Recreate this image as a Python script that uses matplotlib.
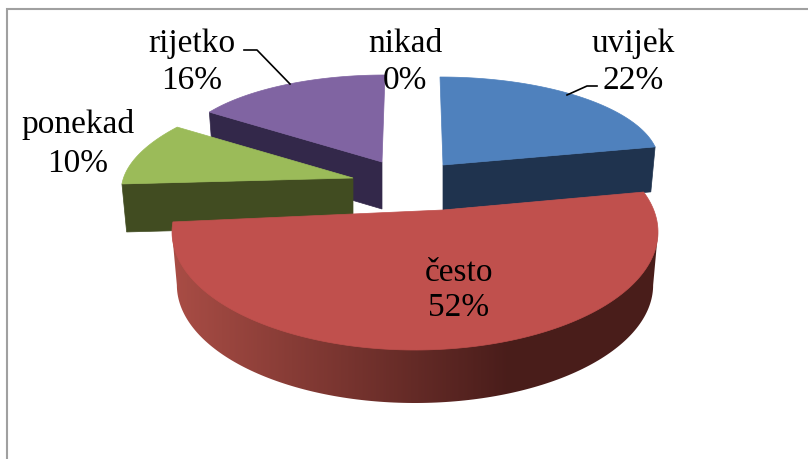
import numpy as np
import matplotlib
matplotlib.use("Agg")
import matplotlib.pyplot as plt
from matplotlib.patches import Polygon
from matplotlib.colors import LinearSegmentedColormap

# data
labels = ["uvijek", "često", "nikad", "ponekad", "rijetko"]
values = [22, 52, 0, 10, 16]

# colours
top_colors = {"uvijek": "#4f81bd", "često": "#c0504d", "ponekad": "#9bbb59", "rijetko": "#8064a2"}
wall_colors = {"uvijek": "#1f334e", "ponekad": "#414c21", "rijetko": "#33284a"}

# projected geometry of each exploded slice: ellipse centre, radii, shear, apex, arc padding
geom = {
    "uvijek":  dict(ex=440, ey=163, rx=219, ry=86, sh=0, ax=443, ay=165, p0=0, p1=0, h=45),
    "često":   dict(ex=415, ey=232, rx=243, ry=118, sh=0, ax=443, ay=210, p0=-9, p1=8.5, h=53),
    "ponekad": dict(ex=358.5, ey=178, rx=235, ry=95, sh=32, ax=353, ay=178, p0=0, p1=0, h=48),
    "rijetko": dict(ex=385, ey=155, rx=208, ry=80, sh=0, ax=382, ay=162, p0=0, p1=0, h=47),
}
draw_order = ["rijetko", "ponekad", "uvijek", "često"]
label_pos = {"uvijek": (633, 62), "često": (459, 290), "nikad": (405, 62), "ponekad": (78, 144), "rijetko": (192, 62)}
label_spacing = {"uvijek": 1.27, "često": 1.2, "nikad": 1.27, "ponekad": 1.33, "rijetko": 1.27}
leaders = {"rijetko": ([244, 257, 290], [50, 50, 84]), "uvijek": ([597, 587, 567], [86, 86, 95])}

fig = plt.figure(figsize=(8.08, 4.59), dpi=100, facecolor="white")
ax = fig.add_axes([0, 0, 1, 1])
ax.set_xlim(0, 808)
ax.set_ylim(459, 0)
ax.axis("off")

ax.plot([7, 7, 808], [459, 9, 9], color="#a0a0a0", lw=1.5, solid_joinstyle="miter", zorder=1)

# slice angles (clockwise from 12 o'clock)
total = sum(values)
edges = np.cumsum([0] + values) / total * 360
span = {lab: (edges[i], edges[i + 1]) for i, lab in enumerate(labels)}


def arc(g, a0, a1, n=160, low=False):
    t = np.radians(np.linspace(a0, a1, n))
    u, v = np.sin(t), np.cos(t)
    f = 0.98 if low else 1.0
    x = g["ex"] + f * g["rx"] * u + g["sh"] * v
    y = g["ey"] - g["ry"] * v + (g["h"] if low else 0)
    return x, y


ramp = LinearSegmentedColormap.from_list("wall", [(0.66, 0.30, 0.27), (0.29, 0.115, 0.105)])

z = 2
for lab in draw_order:
    g = geom[lab]
    a0, a1 = span[lab]
    a0 += g["p0"]
    a1 += g["p1"]
    xt, yt = arc(g, a0, a1)
    xb, yb = arc(g, a0, a1, low=True)
    if lab == "često":
        # curved outer wall: swept outline from the top ellipse's extremes around the lower arc
        xs, ys = arc(g, 90, 270, low=True)
        xe, ye = arc(g, 90, 270)
        outline = Polygon(np.column_stack([np.r_[xe[0], xs, xe[-1]], np.r_[ye[0], ys, ye[-1]]]), closed=True,
                          fc="none", ec="none", transform=ax.transData)
        ax.add_patch(outline)
        shade = np.clip((np.linspace(170, 660, 490) - 175) / (507 - 175), 0, 1)[None, :]
        im = ax.imshow(shade, extent=(170, 660, 410, 210), cmap=ramp, vmin=0, vmax=1, aspect="auto",
                       interpolation="bilinear", zorder=z)
        im.set_clip_path(outline)
        ax.set_xlim(0, 808)
        ax.set_ylim(459, 0)
    else:
        # flat cut face that looks towards the viewer
        k = 0 if lab in ("ponekad", "rijetko") else -1
        ax.add_patch(Polygon([(g["ax"], g["ay"]), (xt[k], yt[k]), (xb[k], yb[k]), (g["ax"], g["ay"] + g["h"])],
                             closed=True, fc=wall_colors[lab], ec=wall_colors[lab], lw=0.5, zorder=z))
    ax.add_patch(Polygon(np.column_stack([np.r_[g["ax"], xt], np.r_[g["ay"], yt]]), closed=True,
                         fc=top_colors[lab], ec=top_colors[lab], lw=0.5, zorder=z + 0.5))
    z += 1

for lab, (xs, ys) in leaders.items():
    ax.plot(xs, ys, color="black", lw=1.2, zorder=20)

font = ["Liberation Serif", "DejaVu Serif"]
for lab, val in zip(labels, values):
    x, y = label_pos[lab]
    ax.text(x, y, f"{lab}\n{val}%", ha="center", va="center", fontsize=24, family=font,
            color="black", linespacing=label_spacing[lab], zorder=30)

fig.savefig("out.png", dpi=100, facecolor="white")
